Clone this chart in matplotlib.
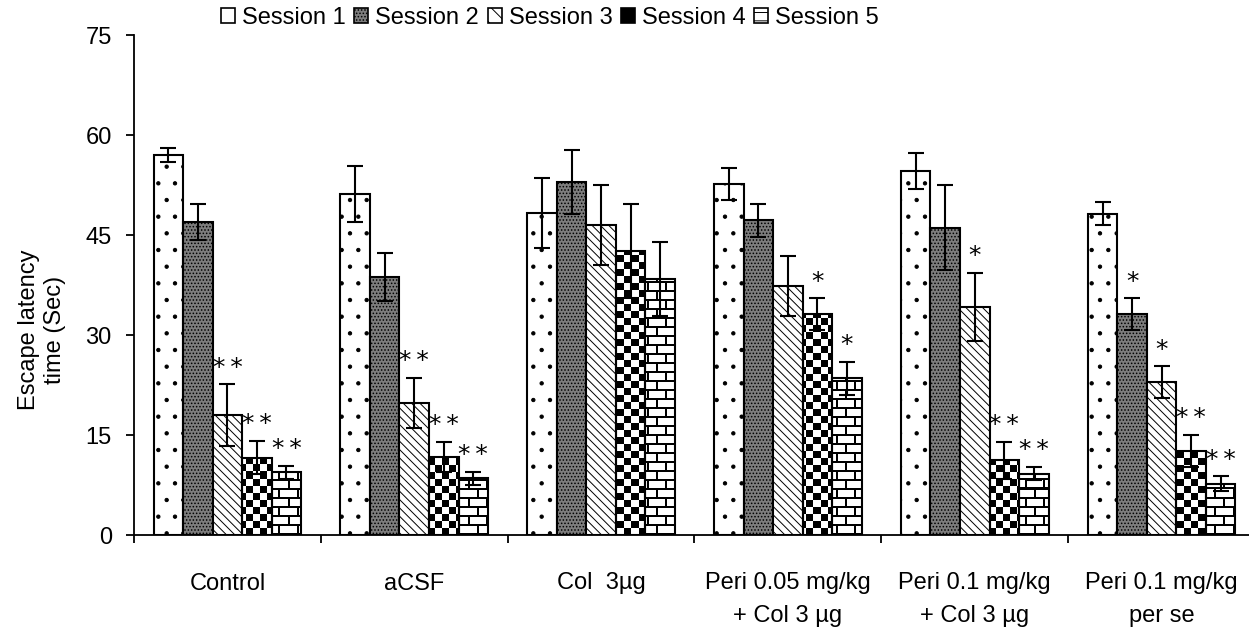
import numpy as np
import matplotlib
matplotlib.use('Agg')
import matplotlib.pyplot as plt
from matplotlib.patches import Patch

plt.rcParams['font.family'] = ['Liberation Sans', 'DejaVu Sans']
plt.rcParams['hatch.linewidth'] = 0.7

groups = ['Control', 'aCSF', 'Col  3µg', 'Peri 0.05 mg/kg\n+ Col 3 µg',
          'Peri 0.1 mg/kg\n+ Col 3 µg', 'Peri 0.1 mg/kg\nper se']
sessions = ['Session 1', 'Session 2', 'Session 3', 'Session 4', 'Session 5']

# mean escape latency (sec) and SEM for each session
s1 = [57.0, 51.2, 48.3, 52.6, 54.6, 48.2]
s1_err = [1.0, 4.2, 5.2, 2.4, 2.7, 1.7]
s2 = [47.0, 38.7, 52.9, 47.2, 46.1, 33.1]
s2_err = [2.7, 3.6, 4.8, 2.5, 6.4, 2.4]
s3 = [18.0, 19.8, 46.5, 37.3, 34.2, 22.9]
s3_err = [4.6, 3.8, 6.0, 4.5, 5.1, 2.4]
s4 = [11.6, 11.7, 42.6, 33.1, 11.2, 12.6]
s4_err = [2.5, 2.3, 7.1, 2.4, 2.8, 2.4]
s5 = [9.4, 8.5, 38.4, 23.5, 9.2, 7.7]
s5_err = [1.0, 1.0, 5.6, 2.5, 1.0, 1.1]

# significance marks
s1_sig = ['', '', '', '', '', '']
s2_sig = ['', '', '', '', '', '*']
s3_sig = ['**', '**', '', '', '*', '*']
s4_sig = ['**', '**', '', '*', '**', '**']
s5_sig = ['**', '**', '', '*', '**', '**']

means = [s1, s2, s3, s4, s5]
errs = [s1_err, s2_err, s3_err, s4_err, s5_err]
sigs = [s1_sig, s2_sig, s3_sig, s4_sig, s5_sig]

W, H = 1249, 637
fig = plt.figure(figsize=(W / 100, H / 100), dpi=100)
ax_left, ax_bottom = 134 / W, (H - 535) / H
ax_w, ax_h = (W + 6 - 134) / W, (535 - 35) / H
ax = fig.add_axes([ax_left, ax_bottom, ax_w, ax_h])

ymax = 75

# pixel patterns (checkerboard and brick) used inside session 4/5 bars
pw, ph = int(round(ax_w * W)), int(round(ax_h * H))
jj, ii = np.meshgrid(np.arange(pw), np.arange(ph))
checker = (((ii // 7) + (jj // 7)) % 2).astype(float)
row = ii // 9
brick = np.ones((ph, pw))
brick[(ii % 9) < 2] = 0
joint = np.where(row % 2 == 0, jj % 18, (jj + 9) % 18)
brick[joint < 2] = 0

x = np.arange(len(groups))
bw = 0.158
offsets = (np.arange(5) - 2) * bw
hatches = ['.', '.....', '\\\\\\\\', None, None]
faces = ['white', '#7d7d7d', 'white', 'none', 'none']

for k in range(5):
    bars = ax.bar(x + offsets[k], means[k], bw, color=faces[k], edgecolor='black',
                  linewidth=1.5, hatch=hatches[k], zorder=2)
    if k >= 3:
        img = checker if k == 3 else brick
        for b in bars:
            im = ax.imshow(img, cmap='gray', vmin=0, vmax=1, origin='lower',
                           extent=(-0.5, 5.5, 0, ymax), aspect='auto',
                           interpolation='nearest', zorder=1)
            im.set_clip_path(b)
    ax.errorbar(x + offsets[k], means[k], yerr=errs[k], fmt='none', ecolor='black',
                elinewidth=1.5, capsize=6, capthick=1.5, zorder=4)
    for xi, m, e, s in zip(x + offsets[k], means[k], errs[k], sigs[k]):
        if s:
            ax.text(xi, m + e + 0.7, '\u2009'.join(s), ha='center', va='bottom',
                    fontsize=18, family='DejaVu Sans', zorder=5)

ax.set_xlim(-0.5, 5.5)
ax.set_ylim(0, ymax)

ax.spines['top'].set_visible(False)
ax.spines['right'].set_visible(False)
ax.spines['left'].set_linewidth(1.3)
ax.spines['bottom'].set_linewidth(1.3)

ax.set_yticks(np.arange(0, 76, 15))
ax.tick_params(axis='y', direction='out', length=6, width=1.3, labelsize=17, pad=10)
ax.set_xticks(x)
ax.set_xticklabels(groups, fontsize=17, linespacing=1.6)
ax.tick_params(axis='x', which='major', length=0, pad=27)
ax.set_xticks(np.arange(-0.5, 5.6, 1), minor=True)
ax.tick_params(axis='x', which='minor', direction='out', length=6, width=1.3)

fig.text(42 / W, 1 - 330 / H, 'Escape latency\ntime (Sec)', rotation=90,
         ha='center', va='center', fontsize=17, multialignment='center')

handles = [
    Patch(facecolor='white', edgecolor='black', linewidth=1.2),
    Patch(facecolor='#7d7d7d', edgecolor='black', linewidth=1.2, hatch='.....'),
    Patch(facecolor='white', edgecolor='black', linewidth=1.2, hatch='\\\\'),
    Patch(facecolor='black', edgecolor='black', linewidth=1.2),
    Patch(facecolor='white', edgecolor='black', linewidth=1.2, hatch='--'),
]
fig.legend(handles, sessions, loc='center', bbox_to_anchor=(550 / W, 1 - 18 / H),
           ncol=5, frameon=False, fontsize=17, handlelength=0.6, handleheight=0.6,
           handletextpad=0.3, columnspacing=0.35, borderpad=0)

fig.savefig('out.png', dpi=100)
